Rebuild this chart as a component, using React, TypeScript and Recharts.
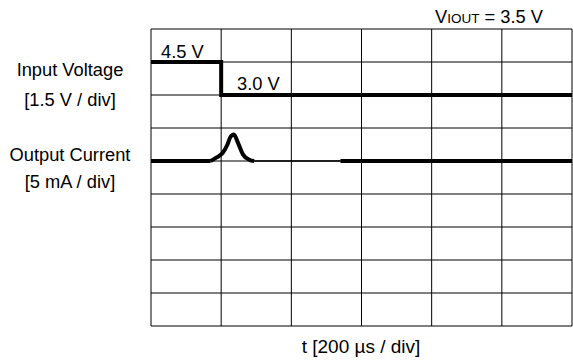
import {CartesianGrid, Line, LineChart, XAxis, YAxis} from 'recharts';

// time in divisions (200 µs / div), trace level in divisions from the bottom
const timeTicks = [0, 1, 2, 3, 4, 5, 6];
const levelTicks = [0, 1, 2, 3, 4, 5, 6, 7, 8, 9];

const inputVoltage = [
  { t: 0, v: 8 },
  { t: 1, v: 8 },
  { t: 1, v: 7 },
  { t: 6, v: 7 },
];

const currentBefore = [
  { t: 0, v: 5 },
  { t: 0.85, v: 5 },
];

const currentPulse = [
  { t: 0.85, v: 5 },
  { t: 0.93, v: 5.1 },
  { t: 1.02, v: 5.24 },
  { t: 1.09, v: 5.5 },
  { t: 1.13, v: 5.72 },
  { t: 1.18, v: 5.8 },
  { t: 1.24, v: 5.55 },
  { t: 1.31, v: 5.2 },
  { t: 1.4, v: 5.04 },
  { t: 1.47, v: 5 },
];

const currentGap = [
  { t: 1.47, v: 5 },
  { t: 2.7, v: 5 },
];

const currentAfter = [
  { t: 2.7, v: 5 },
  { t: 6, v: 5 },
];

const font = 'Arial, "Liberation Sans", sans-serif';

export default function App() {
  return (
    <div style={{ position: 'absolute', left: 0, top: 0, width: 573, height: 360, background: '#fff' }}>
      <LineChart width={573} height={360} margin={{ top: 29, right: 1, bottom: 34, left: 151 }}>
        <XAxis type="number" dataKey="t" domain={[0, 6]} ticks={timeTicks} hide allowDataOverflow />
        <YAxis type="number" dataKey="v" domain={[0, 9]} ticks={levelTicks} hide allowDataOverflow />
        <CartesianGrid stroke="#000" strokeWidth={1} />
        <Line data={inputVoltage} dataKey="v" type="linear" stroke="#000" strokeWidth={4} dot={false} isAnimationActive={false} />
        <Line data={currentBefore} dataKey="v" type="linear" stroke="#000" strokeWidth={4} dot={false} isAnimationActive={false} />
        <Line data={currentPulse} dataKey="v" type="monotone" stroke="#000" strokeWidth={4} dot={false} isAnimationActive={false} />
        <Line data={currentGap} dataKey="v" type="linear" stroke="#000" strokeWidth={1.5} dot={false} isAnimationActive={false} />
        <Line data={currentAfter} dataKey="v" type="linear" stroke="#000" strokeWidth={4} dot={false} isAnimationActive={false} />
      </LineChart>
      <svg width={573} height={360} style={{ position: 'absolute', left: 0, top: 0, pointerEvents: 'none' }}>
        <g fontFamily={font} fontSize={18.3} fill="#000">
          <text x={435} y={23}>
            V<tspan fontSize={13.5}>IOUT</tspan> = 3.5 V
          </text>
          <text x={161} y={57.5}>4.5 V</text>
          <text x={237} y={90}>3.0 V</text>
          <text x={70} y={76} textAnchor="middle">Input Voltage</text>
          <text x={70} y={106} textAnchor="middle">[1.5 V / div]</text>
          <text x={70} y={161} textAnchor="middle">Output Current</text>
          <text x={70} y={188} textAnchor="middle">[5 mA / div]</text>
          <text x={361} y={353} textAnchor="middle" fontSize={19}>t [200 µs / div]</text>
        </g>
      </svg>
    </div>
  );
}
